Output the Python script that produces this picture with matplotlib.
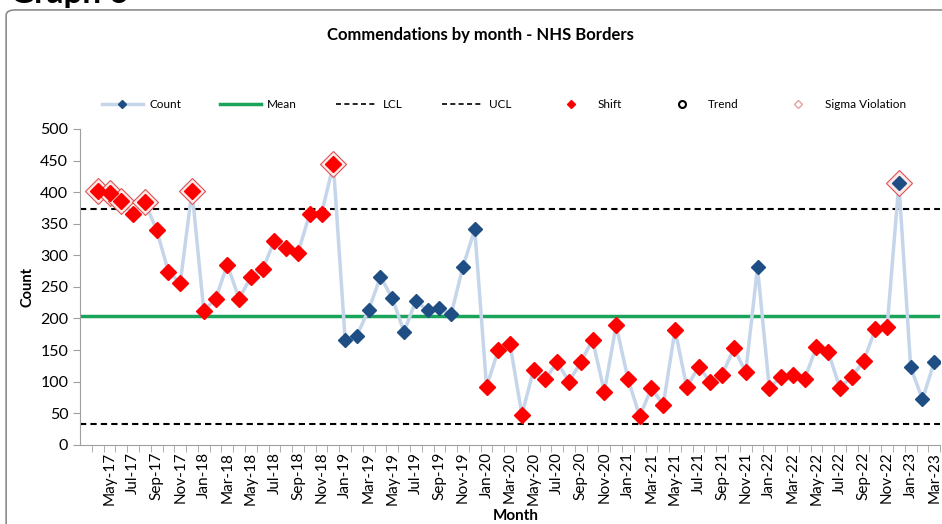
import matplotlib.pyplot as plt
from matplotlib.patches import FancyBboxPatch
from matplotlib.lines import Line2D

plt.rcParams['font.family'] = ['Lato', 'DejaVu Sans']

months = ['Apr-17', 'May-17', 'Jun-17', 'Jul-17', 'Aug-17', 'Sep-17', 'Oct-17', 'Nov-17', 'Dec-17',
          'Jan-18', 'Feb-18', 'Mar-18', 'Apr-18', 'May-18', 'Jun-18', 'Jul-18', 'Aug-18', 'Sep-18',
          'Oct-18', 'Nov-18', 'Dec-18', 'Jan-19', 'Feb-19', 'Mar-19', 'Apr-19', 'May-19', 'Jun-19',
          'Jul-19', 'Aug-19', 'Sep-19', 'Oct-19', 'Nov-19', 'Dec-19', 'Jan-20', 'Feb-20', 'Mar-20',
          'Apr-20', 'May-20', 'Jun-20', 'Jul-20', 'Aug-20', 'Sep-20', 'Oct-20', 'Nov-20', 'Dec-20',
          'Jan-21', 'Feb-21', 'Mar-21', 'Apr-21', 'May-21', 'Jun-21', 'Jul-21', 'Aug-21', 'Sep-21',
          'Oct-21', 'Nov-21', 'Dec-21', 'Jan-22', 'Feb-22', 'Mar-22', 'Apr-22', 'May-22', 'Jun-22',
          'Jul-22', 'Aug-22', 'Sep-22', 'Oct-22', 'Nov-22', 'Dec-22', 'Jan-23', 'Feb-23', 'Mar-23']
count = [402, 399, 386, 366, 384, 340, 274, 256, 402, 212, 231, 285, 231, 266, 278, 323, 311, 304,
         366, 366, 444, 166, 173, 214, 266, 232, 179, 228, 213, 216, 207, 282, 341, 92, 150, 159,
         48, 119, 104, 131, 100, 131, 166, 84, 189, 105, 45, 90, 63, 182, 91, 124, 99, 111,
         153, 115, 281, 90, 108, 111, 104, 155, 147, 90, 108, 132, 183, 186, 414, 123, 72, 131]
# 1 = point flagged as part of a shift
shift = [1] * 21 + [0] * 12 + [1] * 23 + [0] + [1] * 11 + [0] * 4
sigma_idx = [0, 1, 2, 4, 8, 20, 68]
mean_val = 204
ucl_val = 373
lcl_val = 33

x = list(range(len(months)))
fig = plt.figure(figsize=(9.42, 5.24), dpi=100)
fig.patches.append(FancyBboxPatch((0.0065, -0.05), 1.05, 1.031, boxstyle='round,pad=0,rounding_size=0.01',
                                  transform=fig.transFigure, fill=False, edgecolor='#8c8c8c', lw=1.2))
fig.text(0.011, 0.994, 'Graph 6', fontsize=24, fontweight='bold', va='baseline', ha='left')

ax = fig.add_axes([0.085, 0.151, 0.913, 0.603])

ax.plot(x, count, color='#c5d6ea', lw=2.5, zorder=2)
ax.plot(x, count, ls='none', marker='D', ms=7.5, color='#1f4e84', zorder=3)
ax.axhline(mean_val, color='#1aa35a', lw=2.5, zorder=1)
ax.axhline(ucl_val, color='black', lw=1.5, ls=(0, (3, 2)), zorder=1)
ax.axhline(lcl_val, color='black', lw=1.5, ls=(0, (3, 2)), zorder=1)

sx = [i for i in x if shift[i]]
ax.plot(sx, [count[i] for i in sx], ls='none', marker='D', ms=8, markerfacecolor='#ff0000',
        markeredgecolor='#ff0000', zorder=4)
ax.plot(sigma_idx, [count[i] for i in sigma_idx], ls='none', marker='D', ms=13, markerfacecolor='#fbeaea',
        markeredgecolor='#e05050', markeredgewidth=0.8, zorder=2.5)

ax.set_xlim(-1.5, 71.5)
ax.set_ylim(0, 500)
ax.set_yticks(range(0, 501, 50))
ax.set_xticks(x[1::2])
ax.set_xticklabels(months[1::2], rotation=90, fontsize=11)
ax.set_xticks([i - 0.5 for i in x] + [71.5], minor=True)
ax.tick_params(axis='x', which='major', length=0, pad=5)
ax.tick_params(axis='x', which='minor', length=5, color='#a0a0a0')
ax.tick_params(axis='y', labelsize=11.5, length=5, color='#a0a0a0')
for s in ['top', 'right']:
    ax.spines[s].set_visible(False)
for s in ['left', 'bottom']:
    ax.spines[s].set_color('#a0a0a0')
ax.set_ylabel('Count', fontweight='bold', fontsize=10.5)

fig.text(0.547, 0.016, 'Month', ha='center', va='center', fontsize=11, fontweight='bold')
fig.text(0.51, 0.933, 'Commendations by month - NHS Borders', ha='center', va='center',
         fontsize=12, fontweight='bold')

handles = [
    Line2D([], [], color='#c5d6ea', lw=2.5, marker='D', ms=4, markerfacecolor='#1f4e84',
           markeredgecolor='#1f4e84'),
    Line2D([], [], color='#1aa35a', lw=2.5),
    Line2D([], [], color='black', lw=1.2, ls=(0, (3, 2))),
    Line2D([], [], color='black', lw=1.2, ls=(0, (3, 2))),
    Line2D([], [], ls='none', marker='D', ms=4, color='#ff0000'),
    Line2D([], [], ls='none', marker='o', ms=5, markerfacecolor='white', markeredgecolor='black',
           markeredgewidth=1.5),
    Line2D([], [], ls='none', marker='D', ms=4, markerfacecolor='white', markeredgecolor='#e8a0a0'),
]
labels = ['Count', 'Mean', 'LCL', 'UCL', 'Shift', 'Trend', 'Sigma Violation']
fig.legend(handles, labels, loc='center', bbox_to_anchor=(0.535, 0.8), ncol=7, frameon=False,
           fontsize=8.5, handlelength=3.5, handletextpad=0.5, columnspacing=3.3)

plt.savefig('out.png', dpi=100)
